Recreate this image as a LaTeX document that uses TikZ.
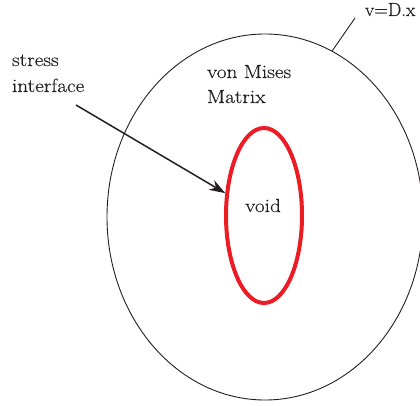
\documentclass[tikz,border=0pt]{standalone}
\usepackage{fontspec}
\setmainfont{Latin Modern Roman}[FakeStretch=1.12,FakeBold=0.3]
\newfontfamily\lmplain{Latin Modern Roman}[FakeBold=0.3]
\usetikzlibrary{shapes.geometric,arrows.meta}
\definecolor{ink}{RGB}{35,31,32}
\definecolor{voidred}{RGB}{237,28,36}
\tikzset{
  lbl/.style={inner sep=0pt, outer sep=0pt, text=ink, font=\fontsize{19}{23}\selectfont},
  matrixshape/.style={ellipse, draw=ink, line width=0.9pt, inner sep=0pt, outer sep=0pt},
  voidshape/.style={ellipse, draw=voidred, line width=4pt, inner sep=0pt},
  thin line/.style={draw=ink, line width=0.9pt},
  pointer/.style={draw=ink, line width=1.5pt, -{Stealth[length=16pt,width=11pt]}}
}
\begin{document}
\begin{tikzpicture}[x=1pt,y=-1pt]
\useasboundingbox (0,0) rectangle (420,406);
\node[matrixshape, minimum width=316pt, minimum height=366pt] (matrix) at (265,217) {};
\node[voidshape, minimum width=76pt, minimum height=175pt] (void) at (264,215.5) {};
\node[lbl, anchor=base] (voidtxt) at (263,212) {void};
\node[lbl, anchor=base west] (vm1) at (207,78) {von Mises};
\node[lbl, anchor=base west] (vm2) at (207,103) {Matrix};
\node[lbl, anchor=base west] (st1) at (12,66) {stress};
\node[lbl, anchor=base west] (st2) at (12,92) {interface};
\node[lbl, anchor=base west, font=\lmplain\fontsize{19}{23}\selectfont] (vlabel) at (365,16) {v=D.x};
\coordinate (arrowstart) at (76,105);
\coordinate (vend) at (355,18);
\draw[pointer] (arrowstart) -- (void.150);
\draw[thin line] (matrix.68) -- (vend);
\end{tikzpicture}
\end{document}
